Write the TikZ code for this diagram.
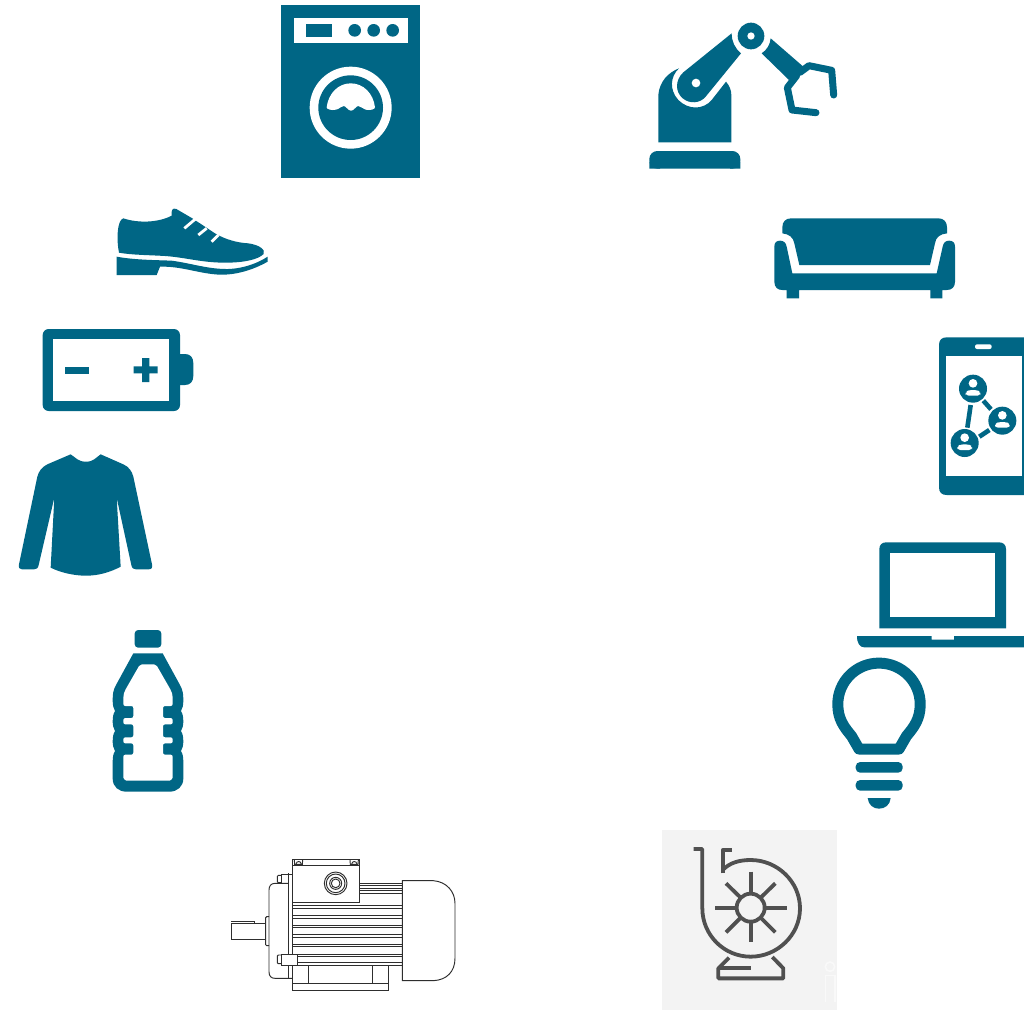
\documentclass[tikz,border=0pt]{standalone}
\definecolor{teal1}{HTML}{006685}
\definecolor{ink}{HTML}{2E2E2E}
\definecolor{pumpink}{HTML}{505050}
\definecolor{pumpbg}{HTML}{F3F3F3}
\tikzset{
  zoomed/.style={x=0.33333pt,y=-0.33333pt},
  solid1/.style={fill=teal1,draw=none},
  gap/.style={fill=white,draw=none},
  claw/.style={draw=teal1,line width=7pt,line cap=round,line join=round},
  link/.style={draw=teal1,line width=4.6pt},
  lace/.style={draw=white,line width=2.8pt},
  thin1/.style={draw=ink,line width=0.95pt},
  pumpline/.style={draw=pumpink,line width=3.8pt,line join=round},
  bulbline/.style={draw=teal1,line width=11pt,line join=round},
}
\newcommand{\personicon}[2]{%
  \fill[solid1] (#1,#2) circle[radius=42];
  \fill[gap] (#1,#2-16) circle[radius=13];
  \fill[gap,rounded corners=3pt] (#1-22,#2+21) -- (#1-22,#2+10) -- (#1-12,#2+4) -- (#1+12,#2+4) -- (#1+22,#2+10) -- (#1+22,#2+21) -- cycle;
}
\begin{document}
\begin{tikzpicture}[x=1pt,y=-1pt]
\useasboundingbox (0,0) rectangle (1024,1010);
\fill[white] (0,0) rectangle (1024,1010);

% washing machine
\begin{scope}[shift={(275,0)},zoomed]
  \fill[solid1] (18,15) rectangle (435,535);
  \fill[gap] (57,54) rectangle (398,130);
  \fill[solid1] (93,72) rectangle (171,110);
  \foreach \cx in {239,296,353} \fill[solid1] (\cx,91) circle[radius=19];
  \fill[gap] (227,323) circle[radius=123];
  \fill[solid1] (227,323) circle[radius=97];
  \fill[gap] (155,322) .. controls (160,280) and (190,250) .. (227,250)
     .. controls (265,250) and (295,280) .. (300,322)
     .. controls (300,328) and (285,332) .. (272,329)
     .. controls (262,327) and (258,318) .. (250,318)
     .. controls (242,318) and (238,332) .. (228,332)
     .. controls (218,332) and (214,318) .. (206,318)
     .. controls (198,318) and (194,327) .. (183,329)
     .. controls (170,332) and (155,328) .. (155,322) -- cycle;
\end{scope}

% robot arm
\begin{scope}[shift={(640,15)},zoomed]
  \fill[solid1,rounded corners=8pt] (28,461) -- (28,408) -- (301,408) -- (301,461) -- cycle;
  \fill[solid1] (28,461) rectangle (60,440) (270,461) rectangle (301,440);
  \fill[solid1] (55,382) -- (55,240) .. controls (58,200) and (85,172) .. (117,160)
     .. controls (90,185) and (88,225) .. (115,255)
     .. controls (145,285) and (190,285) .. (215,255)
     -- (258,200) .. controls (268,212) and (274,225) .. (274,240) -- (274,382) -- cycle;
  \fill[solid1] (275,55) -- (130,172) .. controls (105,195) and (105,230) .. (128,250)
     .. controls (150,268) and (180,265) .. (197,245)
     -- (303,115) .. controls (285,100) and (275,80) .. (275,55) -- cycle;
  \fill[gap] (168,204) circle[radius=13];
  \fill[solid1] (333,63) circle[radius=40];
  \fill[gap] (333,63) circle[radius=11];
  \fill[solid1] (392,70) .. controls (390,90) and (380,105) .. (365,115)
     -- (447,195) -- (490,155) -- cycle;
  \draw[claw] (480,172) -- (507,152) -- (575,166) -- (581,240);
  \draw[claw] (470,182) -- (442,218) -- (456,285) -- (528,293);
\end{scope}

% sofa
\begin{scope}[shift={(765,210)},zoomed]
  \fill[solid1] (52,70) -- (52,52) .. controls (52,35) and (62,25) .. (78,25) -- (520,25)
     .. controls (536,25) and (546,35) .. (546,52) -- (546,70)
     .. controls (525,72) and (512,82) .. (510,100) -- (495,165) -- (103,165) -- (88,100)
     .. controls (85,82) and (72,72) .. (52,70) -- cycle;
  \fill[solid1] (28,110) .. controls (28,98) and (34,92) .. (45,92)
     .. controls (56,92) and (63,98) .. (65,110) -- (82,190) -- (515,190) -- (533,110)
     .. controls (535,98) and (542,92) .. (552,92) .. controls (564,92) and (570,98) .. (570,110)
     -- (570,215) .. controls (570,232) and (560,240) .. (545,240) -- (532,240) -- (532,265) -- (496,265) -- (496,240)
     -- (102,240) -- (102,265) -- (65,265) -- (65,240) -- (52,240)
     .. controls (38,240) and (28,232) .. (28,215) -- cycle;
\end{scope}

% phone
\begin{scope}[shift={(930,330)},zoomed]
  \fill[solid1] (282,22) -- (50,22) .. controls (35,22) and (27,30) .. (27,45) -- (27,472)
     .. controls (27,487) and (35,495) .. (50,495) -- (282,495) -- cycle;
  \fill[gap] (47,77) rectangle (275,437);
  \fill[gap,rounded corners=2pt] (135,43) rectangle (185,57);
  \path (122,225) coordinate (l1a) (112,293) coordinate (l1b)
        (160,212) coordinate (l2a) (183,238) coordinate (l2b)
        (148,320) coordinate (l3a) (178,300) coordinate (l3b);
  \draw[link] (l1a) -- (l1b);
  \draw[link] (l2a) -- (l2b);
  \draw[link] (l3a) -- (l3b);
  \personicon{129}{176}
  \personicon{217}{272}
  \personicon{104}{339}
\end{scope}

% laptop and bulb
\begin{scope}[shift={(825,535)},zoomed]
  \fill[solid1] (163,280) -- (163,42) .. controls (163,30) and (171,22) .. (183,22) -- (523,22)
     .. controls (535,22) and (543,30) .. (543,42) -- (543,280) -- cycle;
  \fill[gap] (196,55) rectangle (510,247);
  \fill[solid1] (96,303) -- (320,303) -- (320,314) -- (387,314) -- (387,303) -- (597,303) -- (597,337)
     -- (118,337) .. controls (104,337) and (96,325) .. (96,303) -- cycle;
  \fill[solid1,rounded corners=4.5pt] (92,681) rectangle (233,713);
  \fill[solid1,rounded corners=4.5pt] (92,735) rectangle (233,767);
  \fill[solid1] (128,789) -- (197,789) .. controls (195,810) and (180,821) .. (162,821)
     .. controls (145,821) and (130,810) .. (128,789) -- cycle;
\end{scope}
\draw[bulbline] (859,749) -- (851.5,736) .. controls (844,727) and (837.8,719) .. (837.8,704.3)
   .. controls (837.8,681.5) and (856.2,663.1) .. (879,663.1)
   .. controls (901.8,663.1) and (920.2,681.5) .. (920.2,704.3)
   .. controls (920.2,719) and (914,727) .. (906.5,736) -- (899,749) -- cycle;

% shoe
\begin{scope}[shift={(105,200)},zoomed]
  \fill[solid1] (55,55) .. controls (100,70) and (160,68) .. (200,47)
     .. controls (198,32) and (202,22) .. (214,27)
     -- (262,55) -- (330,100) .. controls (360,118) and (395,128) .. (430,130)
     .. controls (465,135) and (482,150) .. (476,162)
     .. controls (460,178) and (420,188) .. (360,188)
     .. controls (290,188) and (240,172) .. (180,168)
     .. controls (130,165) and (80,165) .. (42,158)
     .. controls (34,120) and (36,60) .. (55,55) -- cycle;
  \draw[lace] (238,85) -- (270,58);
  \draw[lace] (280,105) -- (305,85);
  \draw[lace] (320,125) -- (340,105);
  \fill[solid1] (35,170) .. controls (90,180) and (150,180) .. (200,182)
     .. controls (260,190) and (310,208) .. (370,207)
     .. controls (420,205) and (460,188) .. (488,170) -- (488,185)
     .. controls (440,212) and (390,225) .. (345,224)
     .. controls (285,222) and (230,198) .. (165,200)
     -- (155,225) -- (35,225) -- cycle;
\end{scope}

% battery
\begin{scope}[shift={(35,320)},zoomed]
  \fill[solid1] (435,102) -- (450,102) .. controls (466,102) and (475,112) .. (475,130) -- (475,167)
     .. controls (475,185) and (466,195) .. (450,195) -- (435,195) -- cycle;
  \fill[solid1,rounded corners=6pt] (23,27) rectangle (435,273);
  \fill[gap] (53,58) rectangle (403,242);
  \fill[solid1] (90,141) rectangle (162,162);
  \fill[solid1] (296,139) rectangle (368,160) (321,114) rectangle (343,186);
\end{scope}

% shirt
\begin{scope}[shift={(10,445)},zoomed]
  \fill[solid1] (182,28) .. controls (200,40) and (205,50) .. (228,50)
     .. controls (250,50) and (255,40) .. (272,28)
     -- (340,58) .. controls (358,66) and (366,80) .. (370,95)
     -- (426,358) .. controls (428,370) and (424,373) .. (415,373) -- (378,373)
     .. controls (370,373) and (366,370) .. (364,360)
     -- (320,158) -- (332,365)
     .. controls (300,382) and (265,392) .. (228,392)
     .. controls (190,392) and (150,382) .. (122,368)
     -- (133,158) -- (86,360) .. controls (84,370) and (80,373) .. (72,373)
     -- (36,373) .. controls (28,373) and (25,368) .. (27,358)
     -- (82,95) .. controls (86,80) and (95,66) .. (112,58) -- cycle;
\end{scope}

% bottle
\begin{scope}[shift={(100,625)},zoomed]
  \fill[solid1,rounded corners=3.5pt] (104,15) rectangle (184,68);
  \fill[solid1] (100,85) -- (188,85) -- (240,180) .. controls (248,195) and (250,205) .. (250,225)
     .. controls (250,240) and (248,250) .. (243,258) .. controls (249,268) and (250,278) .. (250,288)
     .. controls (250,300) and (248,310) .. (243,318) .. controls (249,328) and (250,338) .. (250,348)
     .. controls (250,360) and (248,370) .. (243,378) .. controls (249,388) and (250,398) .. (250,408)
     -- (250,460) .. controls (250,485) and (232,500) .. (208,500) -- (80,500)
     .. controls (55,500) and (38,485) .. (38,460) -- (38,408)
     .. controls (38,398) and (39,388) .. (45,378) .. controls (40,370) and (38,360) .. (38,348)
     .. controls (38,338) and (39,328) .. (45,318) .. controls (40,310) and (38,300) .. (38,288)
     .. controls (38,278) and (39,268) .. (45,258) .. controls (40,250) and (38,240) .. (38,225)
     .. controls (38,205) and (40,195) .. (48,180) -- cycle;
  \fill[gap,rounded corners=2pt] (120,118) -- (168,118) -- (214,198) -- (218,212) -- (218,243) -- (189,243)
     -- (189,279) -- (218,279) -- (218,298) -- (189,298)
     -- (189,337) -- (218,337) -- (218,355) -- (189,355)
     -- (189,389) -- (218,389) -- (218,452)
     .. controls (218,460) and (212,467) .. (203,467) -- (85,467)
     .. controls (76,467) and (70,460) .. (70,452) -- (70,389) -- (100,389) -- (100,355) -- (70,355)
     -- (70,337) -- (100,337) -- (100,298) -- (70,298)
     -- (70,279) -- (100,279) -- (100,243) -- (70,243)
     -- (70,212) -- (74,198) -- cycle;
\end{scope}

% motor
\begin{scope}[shift={(220,840)},zoomed]
  % fan cover
  \draw[thin1] (547,122) -- (640,122) .. controls (680,125) and (705,155) .. (705,190) -- (705,355)
     .. controls (705,395) and (680,420) .. (640,422) -- (547,422) -- cycle;
  % flange
  \draw[thin1] (205,130) -- (165,130) .. controls (153,130) and (147,138) .. (147,150) -- (147,395)
     .. controls (147,408) and (153,415) .. (165,415) -- (218,415);
  \draw[thin1] (205,100) -- (205,415);
  \draw[thin1] (218,187) -- (218,430);
  % shaft
  \draw[thin1] (137,250) -- (34,250) -- (34,297) -- (137,297);
  \draw[thin1] (34,244) -- (103,244) -- (103,250);
  \draw[thin1,rounded corners=1pt] (147,230) -- (137,230) -- (137,317) -- (147,317);
  % fins
  \foreach \fy in {197,205,226,234,255,263,283,291,312,320,342,350,368,376}
    \draw[thin1] (218,\fy) -- (547,\fy);
  \foreach \fy in {130,137,145,152,160}
    \draw[thin1] (418,\fy) -- (547,\fy);
  % terminal box
  \draw[thin1,fill=white] (218,58) rectangle (418,187);
  \draw[thin1] (218,77) -- (418,77);
  \draw[thin1] (223,60) -- (224,73) -- (247,73) -- (248,60);
  \draw[thin1] (228,72) .. controls (230,62) and (242,62) .. (244,72);
  \draw[thin1] (390,60) -- (391,73) -- (414,73) -- (415,60);
  \draw[thin1] (395,72) .. controls (397,62) and (409,62) .. (411,72);
  \foreach \rr in {34,28,18,13} \draw[thin1] (347,130) circle[radius=\rr];
  % bolts
  \draw[thin1] (218,103) -- (185,103) -- (185,130);
  \draw[thin1,rounded corners=1pt] (185,106) -- (172,106) -- (172,128) -- (185,128);
  \draw[thin1,fill=white] (185,342) rectangle (233,376);
  \draw[thin1,rounded corners=1pt] (185,345) -- (172,345) -- (172,371) -- (185,371);
  % foot
  \draw[thin1] (218,430) rectangle (505,452);
  \draw[thin1] (505,376) -- (505,430);
  \draw[thin1] (265,376) -- (265,430);
  \draw[thin1] (457,376) -- (457,430);
\end{scope}

% pump
\fill[pumpbg] (662,830) rectangle (837,1010);
\begin{scope}[shift={(655,825)},zoomed]
  \draw[draw=white,line width=1.5pt,opacity=0.55] (525,425) circle[radius=14];
  \draw[draw=white,line width=1.5pt,opacity=0.55] (512,530) -- (512,452) -- (540,452) -- (540,530);
  \draw[pumpline] (116,72) -- (142,72) -- (142,250)
     .. controls (142,330) and (207,395) .. (287,395)
     .. controls (367,395) and (435,330) .. (435,250)
     .. controls (435,170) and (367,105) .. (287,105)
     .. controls (255,105) and (225,112) .. (203,135);
  \draw[pumpline] (203,145) -- (203,75) -- (232,75);
  \draw[pumpline] (287,248) circle[radius=42];
  \draw[pumpline] (287,140) -- (287,206);
  \draw[pumpline] (287,290) -- (287,352);
  \draw[pumpline] (180,248) -- (245,248);
  \draw[pumpline] (329,248) -- (395,248);
  \draw[pumpline] (213,175) -- (257,218);
  \draw[pumpline] (317,278) -- (361,322);
  \draw[pumpline] (213,322) -- (257,278);
  \draw[pumpline] (317,218) -- (361,175);
  \draw[pumpline] (222,398) -- (190,430) -- (190,460) -- (385,460) -- (385,430) -- (352,396);
  \draw[pumpline] (190,430) -- (287,430);
\end{scope}
\end{tikzpicture}
\end{document}
